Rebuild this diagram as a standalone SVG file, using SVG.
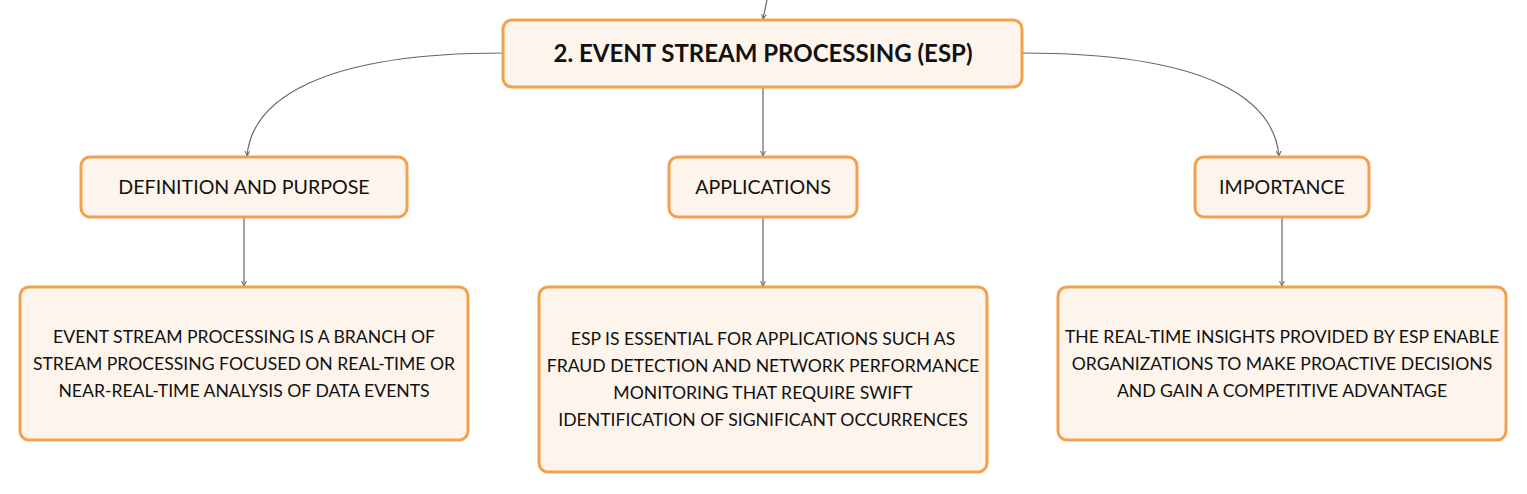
<svg xmlns="http://www.w3.org/2000/svg" width="1527" height="494" viewBox="0 0 1527 494">
<defs>
<style>
.box{fill:#fdf4eb;stroke:#f2a24c;stroke-width:3}
.t{font-family:Lato,"Noto Sans",sans-serif;fill:#111;text-anchor:middle}
.root{font-size:24px;font-weight:bold}
.l2{font-size:19.6px}
.body{font-size:17.6px}
.c{fill:none;stroke:#666;stroke-width:1.2}
</style>
<marker id="ah" markerWidth="6" markerHeight="6" refX="5" refY="3" orient="auto" markerUnits="userSpaceOnUse">
<path d="M0,0.5 L5,3 L0,5.5" fill="none" stroke="#666" stroke-width="1"/>
</marker>
</defs>
<rect width="1527" height="494" fill="#fff"/>
<g id="connectors">
<path class="c" d="M767,0 L763,19" marker-end="url(#ah)"/>
<path class="c" d="M503,53 C320,53 252,100 247,156" marker-end="url(#ah)"/>
<path class="c" d="M1022,53 C1210,53 1274,100 1279,156" marker-end="url(#ah)"/>
<path class="c" d="M763,88 L763,156" marker-end="url(#ah)"/>
<path class="c" d="M244,218 L244,286" marker-end="url(#ah)"/>
<path class="c" d="M763,218 L763,286" marker-end="url(#ah)"/>
<path class="c" d="M1282,218 L1282,286" marker-end="url(#ah)"/>
</g>
<g id="root">
<rect class="box" x="503" y="20" width="519" height="67" rx="9"/>
<text class="t root" x="763" y="62">2. EVENT STREAM PROCESSING (ESP)</text>
</g>
<g id="definition">
<rect class="box" x="81" y="157" width="326" height="60" rx="9"/>
<text class="t l2" x="244" y="194">DEFINITION AND PURPOSE</text>
</g>
<g id="applications">
<rect class="box" x="669" y="157" width="188" height="60" rx="9"/>
<text class="t l2" x="763" y="194">APPLICATIONS</text>
</g>
<g id="importance">
<rect class="box" x="1195" y="157" width="174" height="60" rx="9"/>
<text class="t l2" x="1282" y="194">IMPORTANCE</text>
</g>
<g id="definition-detail">
<rect class="box" x="20" y="287" width="448" height="153" rx="9"/>
<text class="t body" x="244" y="343">EVENT STREAM PROCESSING IS A BRANCH OF</text>
<text class="t body" x="244" y="370">STREAM PROCESSING FOCUSED ON REAL-TIME OR</text>
<text class="t body" x="244" y="397">NEAR-REAL-TIME ANALYSIS OF DATA EVENTS</text>
</g>
<g id="applications-detail">
<rect class="box" x="539" y="287" width="448" height="185" rx="9"/>
<text class="t body" x="763" y="345">ESP IS ESSENTIAL FOR APPLICATIONS SUCH AS</text>
<text class="t body" x="763" y="372">FRAUD DETECTION AND NETWORK PERFORMANCE</text>
<text class="t body" x="763" y="399">MONITORING THAT REQUIRE SWIFT</text>
<text class="t body" x="763" y="426">IDENTIFICATION OF SIGNIFICANT OCCURRENCES</text>
</g>
<g id="importance-detail">
<rect class="box" x="1058" y="287" width="448" height="153" rx="9"/>
<text class="t body" x="1282" y="343">THE REAL-TIME INSIGHTS PROVIDED BY ESP ENABLE</text>
<text class="t body" x="1282" y="370">ORGANIZATIONS TO MAKE PROACTIVE DECISIONS</text>
<text class="t body" x="1282" y="397">AND GAIN A COMPETITIVE ADVANTAGE</text>
</g>
</svg>
